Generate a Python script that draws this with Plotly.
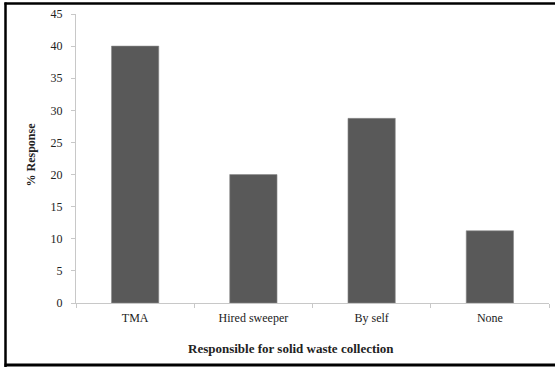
import plotly.graph_objects as go

categories = ["TMA", "Hired sweeper", "By self", "None"]
values = [40, 20, 28.75, 11.25]
y_ticks = [0, 5, 10, 15, 20, 25, 30, 35, 40, 45]

L, R, T, B = 76, 6, 14, 66
W, H = 555, 369
pw, ph = W - L - R, H - T - B

def px(x):
    return (x - L) / pw

def py(y):
    return (H - B - y) / ph

fig = go.Figure(go.Bar(
    x=categories, y=values, width=0.4,
    marker=dict(color="#595959", line=dict(color="#8c8c8c", width=0.6)),
))

FAM = "Liberation Serif"
font = dict(family=FAM, size=12, color="#222222")

fig.update_layout(
    width=W, height=H,
    margin=dict(l=L, r=R, t=T, b=B, autoexpand=False),
    plot_bgcolor="white", paper_bgcolor="white",
    showlegend=False,
    font=font,
    xaxis=dict(
        automargin=False,
        showline=True, linecolor="#c8c8c8", linewidth=1,
        ticks="outside", tickson="boundaries", ticklen=4, tickcolor="#c8c8c8",
        showgrid=False, tickfont=font, ticklabelstandoff=4,
    ),
    yaxis=dict(
        automargin=False,
        range=[0, 45], tickvals=y_ticks,
        showline=True, linecolor="#c8c8c8", linewidth=1,
        ticks="outside", ticklen=4, tickcolor="#c8c8c8",
        showgrid=False, zeroline=False, tickfont=font, ticklabelstandoff=6,
    ),
    annotations=[
        dict(
            text="<b>Responsible for solid waste collection</b>",
            xref="paper", yref="paper", x=px(290.5), y=py(348),
            showarrow=False, xanchor="center", yanchor="middle",
            font=dict(family=FAM, size=13, color="#222222"),
        ),
        dict(
            text="<b>% Response</b>", textangle=-90,
            xref="paper", yref="paper", x=px(30), y=py(154.5),
            showarrow=False, xanchor="center", yanchor="middle",
            font=dict(family=FAM, size=12, color="#222222"),
        ),
    ],
    shapes=[
        dict(type="line", xref="paper", yref="paper", x0=px(5.5), x1=px(5.5), y0=py(2.5), y1=py(367), line=dict(color="black", width=2.5)),
        dict(type="line", xref="paper", yref="paper", x0=px(4.5), x1=px(555), y0=py(3.5), y1=py(3.5), line=dict(color="black", width=2.5)),
        dict(type="line", xref="paper", yref="paper", x0=px(4.5), x1=px(555), y0=py(365), y1=py(365), line=dict(color="black", width=3)),
    ],
)

fig.write_html(
    "out.html",
    config={"displayModeBar": False},
    post_script=(
        "document.body.style.margin='0';"
        "document.body.style.overflow='hidden';"
        "document.documentElement.style.overflow='hidden';"
    ),
)
